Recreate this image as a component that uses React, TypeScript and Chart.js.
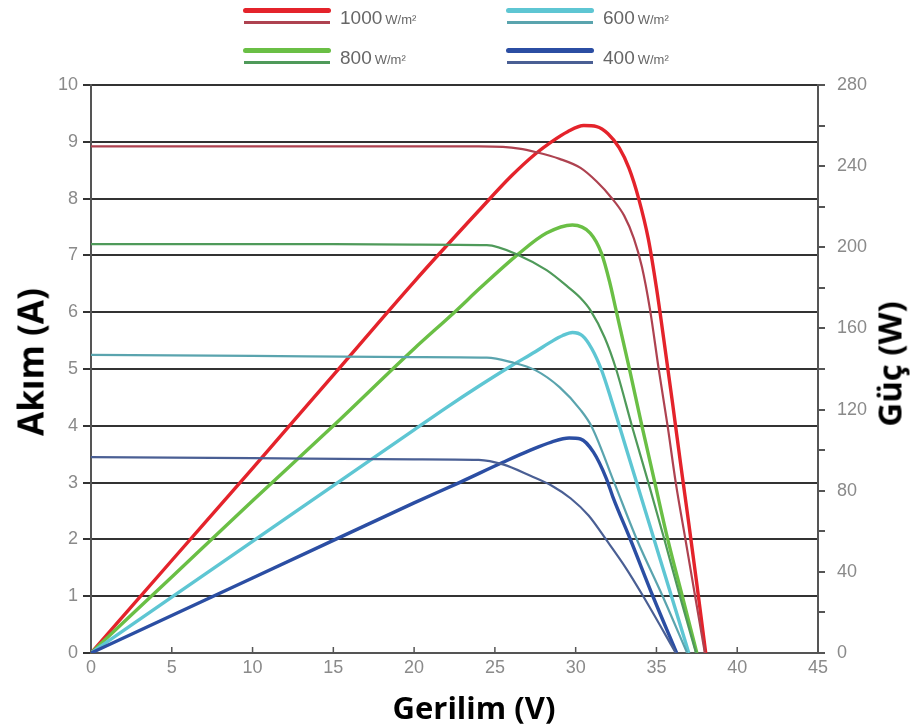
import React, { useEffect, useRef } from "react";
import { Chart, registerables } from "chart.js";

Chart.register(...registerables);

// ---- Axis ticks ----
const xTicks = [0, 5, 10, 15, 20, 25, 30, 35, 40, 45];
const currentTicks = [0, 1, 2, 3, 4, 5, 6, 7, 8, 9, 10];
const powerTicks = [0, 40, 80, 120, 160, 200, 240, 280];

// ---- Legend ----
const irradiance = ["1000", "800", "600", "400"];

// ---- 1000 W/m² ----
const v1000I = [0, 5, 10, 15, 20, 24, 25.5, 26.5, 27.5, 29, 30.3, 31.3, 32.2, 33.0, 33.6, 34.1, 34.6, 35.15, 35.7, 36.2, 36.8, 37.4, 38.0];
const i1000 = [8.92, 8.92, 8.92, 8.92, 8.92, 8.92, 8.91, 8.88, 8.82, 8.7, 8.54, 8.3, 8.02, 7.7, 7.3, 6.8, 6.05, 4.98, 3.98, 2.99, 1.99, 0.99, 0];
const v1000P = [0, 5, 10, 15, 20, 24, 26, 27.5, 28.5, 29.5, 30.5, 31.3, 32, 32.7, 33.3, 33.9, 34.5, 35, 35.5, 36, 36.5, 37, 37.5, 38.05];
const p1000 = [0, 45.6, 91, 137, 183, 218, 235, 246, 252, 257, 260, 259.5, 256, 249, 239, 224, 204, 180, 152, 123, 93, 64, 34, 0];

// ---- 800 W/m² ----
const v800I = [0, 5, 10, 15, 20, 24.5, 26.5, 28.2, 29.5, 30.3, 30.9, 31.8, 32.5, 33.5, 34.5, 35.5, 36.5, 37.45];
const i800 = [7.2, 7.2, 7.2, 7.2, 7.19, 7.18, 7.0, 6.74, 6.45, 6.25, 6.04, 5.55, 5.0, 3.98, 3.0, 1.99, 0.95, 0];
const v800P = [0, 5, 10, 15, 20, 22.5, 24.1, 26.5, 28.2, 29.8, 30.9, 31.6, 32.1, 32.5, 33.3, 34.1, 34.9, 35.7, 36.6, 37.5];
const p800 = [0, 37.5, 75, 112, 150, 168, 180, 197, 207, 211, 207, 197, 183, 169, 141, 112, 84, 56, 28, 0];

// ---- 600 W/m² ----
const v600I = [0, 10, 20, 24.5, 26, 27.5, 29, 30.3, 31.0, 32.4, 33.8, 35.4, 36.9];
const i600 = [5.25, 5.23, 5.21, 5.2, 5.12, 4.98, 4.68, 4.28, 3.98, 2.99, 1.99, 0.99, 0];
const v600P = [0, 5, 10, 15, 20, 22, 24, 26, 27.5, 28.5, 29.2, 29.8, 30.4, 31.0, 31.6, 32.2, 33.2, 34.2, 35.2, 36.2, 37.0];
const p600 = [0, 27.5, 55, 82.5, 110, 121, 131.5, 141.5, 148.5, 153.5, 156.5, 158, 156.5, 150, 139.5, 125, 99, 73, 47, 21, 0];

// ---- 400 W/m² ----
const v400I = [0, 10, 20, 24, 25.5, 27.2, 28.5, 29.7, 30.8, 31.9, 33.1, 34.2, 36.2];
const i400 = [3.45, 3.43, 3.41, 3.4, 3.32, 3.12, 2.95, 2.72, 2.42, 1.99, 1.5, 0.99, 0];
const v400P = [0, 5, 10, 15, 20, 22.8, 25.5, 27.2, 28.5, 29.6, 30.3, 31.1, 31.9, 32.3, 33.4, 34.8, 36.25];
const p400 = [0, 18.5, 37, 55.5, 74, 84, 94, 100, 104, 106, 105.5, 99, 86, 77, 55.7, 27.6, 0];

const powerColors = ["#e4232b", "#6abf45", "#5ec6d3", "#2b4ea3"];
const currentColors = ["#ae4250", "#4f9a5a", "#5aa4ae", "#4a5f94"];

const zip = (xs: number[], ys: number[]) => xs.map((x, i) => ({ x, y: ys[i] }));

const innerXTicks = {
  id: "innerXTicks",
  afterDraw(chart: any) {
    const { ctx, scales, chartArea } = chart;
    const sx = scales.x;
    ctx.save();
    ctx.strokeStyle = "#555";
    ctx.lineWidth = 1.5;
    xTicks.forEach((t) => {
      if (t === 0 || t === 45) return;
      const px = sx.getPixelForValue(t);
      ctx.beginPath();
      ctx.moveTo(px, chartArea.bottom);
      ctx.lineTo(px, chartArea.bottom - 6);
      ctx.stroke();
    });
    ctx.restore();
  },
};

function LegendItem({ label, color, thin, left, top }: any) {
  return (
    <div style={{ position: "absolute", left, top, width: 200, height: 30 }}>
      <div style={{ position: "absolute", left: 0, top: 0, width: 88, height: 5, background: color, borderRadius: 3 }} />
      <div style={{ position: "absolute", left: 1, top: 13, width: 86, height: 2.5, background: thin }} />
      <div
        style={{
          position: "absolute",
          left: 97,
          top: -1,
          whiteSpace: "nowrap",
          color: "#666",
          fontFamily: "'Liberation Sans', Arial, sans-serif",
          fontSize: 19,
          lineHeight: "22px",
        }}
      >
        {label}
        <span style={{ fontSize: 13, marginLeft: 3 }}>W/m²</span>
      </div>
    </div>
  );
}

export default function App() {
  const ref = useRef<HTMLCanvasElement>(null);

  useEffect(() => {
    if (!ref.current) return;
    const mk = (label: string, xs: number[], ys: number[], color: string, axis: string, width: number) => ({
      label,
      data: zip(xs, ys),
      borderColor: color,
      backgroundColor: color,
      borderWidth: width,
      pointRadius: 0,
      cubicInterpolationMode: "monotone" as const,
      yAxisID: axis,
      fill: false,
    });
    const datasets = [
      mk("I 400", v400I, i400, currentColors[3], "y", 2.2),
      mk("I 600", v600I, i600, currentColors[2], "y", 2.2),
      mk("I 800", v800I, i800, currentColors[1], "y", 2.2),
      mk("I 1000", v1000I, i1000, currentColors[0], "y", 2.2),
      mk("P 400", v400P, p400, powerColors[3], "y1", 3.4),
      mk("P 600", v600P, p600, powerColors[2], "y1", 3.4),
      mk("P 800", v800P, p800, powerColors[1], "y1", 3.4),
      mk("P 1000", v1000P, p1000, powerColors[0], "y1", 3.4),
    ];
    const tickFont = { family: "'Liberation Sans', Arial, sans-serif", size: 18 };
    const chart = new Chart(ref.current, {
      type: "line",
      data: { datasets },
      options: {
        animation: false,
        responsive: false,
        layout: { padding: { top: 85, left: 0, right: 0, bottom: 0 } },
        plugins: { legend: { display: false }, tooltip: { enabled: false } },
        scales: {
          x: {
            type: "linear",
            min: 0,
            max: 45,
            afterBuildTicks: (s: any) => {
              s.ticks = xTicks.map((v) => ({ value: v }));
            },
            ticks: { color: "#8a8a8a", font: tickFont, padding: 4, maxRotation: 0 },
            grid: { drawOnChartArea: false, drawTicks: false },
            border: { color: "#555", width: 2 },
            afterFit: (s: any) => {
              s.height = 74;
            },
          },
          y: {
            type: "linear",
            position: "left",
            min: 0,
            max: 10,
            afterBuildTicks: (s: any) => {
              s.ticks = currentTicks.map((v) => ({ value: v }));
            },
            ticks: { color: "#8a8a8a", font: tickFont, padding: 5 },
            grid: { color: "#333", lineWidth: 2, tickLength: 8 },
            border: { color: "#555", width: 2 },
            afterFit: (s: any) => {
              s.width = 91;
            },
          },
          y1: {
            type: "linear",
            position: "right",
            min: 0,
            max: 280,
            afterBuildTicks: (s: any) => {
              const t: any[] = [];
              for (let v = 0; v <= 280; v += 20) t.push({ value: v });
              s.ticks = t;
            },
            ticks: {
              color: "#8a8a8a",
              font: tickFont,
              padding: 12,
              callback: (v: any) => (powerTicks.includes(Number(v)) ? String(v) : ""),
            },
            grid: { drawOnChartArea: false, color: "#555", lineWidth: 2, tickLength: 7 },
            border: { color: "#555", width: 2 },
            afterFit: (s: any) => {
              s.width = 99;
            },
          },
        },
      },
      plugins: [innerXTicks],
    });
    return () => chart.destroy();
  }, []);

  const titleStyle: React.CSSProperties = {
    position: "absolute",
    fontFamily: "'Open Sans', sans-serif",
    fontWeight: 700,
    color: "#000",
    whiteSpace: "nowrap",
    lineHeight: 1,
  };

  return (
    <div style={{ position: "absolute", left: 0, top: 0, width: 917, height: 727, background: "#fff", overflow: "hidden" }}>
      <canvas ref={ref} width={917} height={727} style={{ position: "absolute", left: 0, top: 0, width: 917, height: 727 }} />
      <LegendItem label={irradiance[0]} color={powerColors[0]} thin={currentColors[0]} left={243} top={8} />
      <LegendItem label={irradiance[1]} color={powerColors[1]} thin={currentColors[1]} left={243} top={48} />
      <LegendItem label={irradiance[2]} color={powerColors[2]} thin={currentColors[2]} left={506} top={8} />
      <LegendItem label={irradiance[3]} color={powerColors[3]} thin={currentColors[3]} left={506} top={48} />
      <div style={{ ...titleStyle, fontSize: 35, left: 30, top: 362, transform: "translate(-50%, -50%) rotate(-90deg)" }}>Akım (A)</div>
      <div style={{ ...titleStyle, fontSize: 31, left: 474, top: 707, transform: "translate(-50%, -50%)" }}>Gerilim (V)</div>
      <div style={{ ...titleStyle, fontSize: 33, left: 889, top: 364, transform: "translate(-50%, -50%) rotate(-90deg)" }}>Güç (W)</div>
    </div>
  );
}
